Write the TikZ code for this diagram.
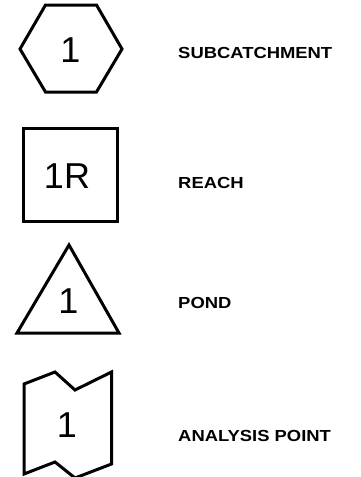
\documentclass[tikz,border=0pt]{standalone}
\usepackage{fontspec}
\setmainfont{Liberation Sans}
\usepackage{tikz}
\usetikzlibrary{positioning}

\tikzset{
  symb/.style={draw=black, line width=3pt, line join=miter},
  numlbl/.style={font=\fontsize{36}{36}\selectfont, inner sep=0pt},
  keylbl/.style={font=\bfseries\fontsize{16}{16}\selectfont, xscale=1.15,
    anchor=west, inner sep=0pt}
}

\begin{document}
\begin{tikzpicture}[x=1pt, y=-1pt]
    \useasboundingbox (0,0) rectangle (360,477);
    % Subcatchment: hexagon
    \draw[symb] (20,49) -- (45.5,5) -- (96.5,5) -- (122,49) -- (96.5,92) -- (45.5,92) -- cycle;
    \node[numlbl] (hexnum) at (70.5,50.5) {1};
    \node[keylbl] (hexkey) at (178,52.5) {SUBCATCHMENT};
    % Reach: square
    \draw[symb] (23,128) rectangle (117,221);
    \node[numlbl] (reachnum) at (67,176) {1R};
    \node[keylbl] (reachkey) at (178,183) {REACH};
    % Pond: triangle
    \draw[symb] (69,245) -- (119,333) -- (17,333) -- cycle;
    \node[numlbl] (pondnum) at (68.5,301) {1};
    \node[keylbl] (pondkey) at (178,303) {POND};
    % Analysis point: flag
    \draw[symb] (24,384) -- (55,372) -- (75,390) -- (111.5,372) -- (111.5,464)
      -- (75,478) -- (55,462) -- (24,474) -- cycle;
    \node[numlbl] (apnum) at (67,425) {1};
    \node[keylbl] (apkey) at (178,436) {ANALYSIS POINT};
\end{tikzpicture}
\end{document}
